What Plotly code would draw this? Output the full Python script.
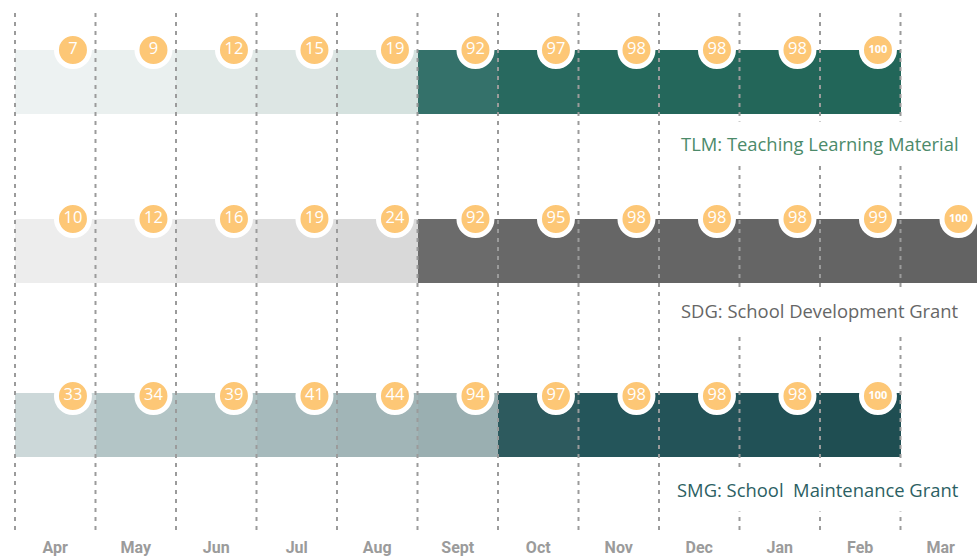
import plotly.graph_objects as go

# ---------------- data ----------------
months = ["Apr", "May", "Jun", "Jul", "Aug", "Sept", "Oct", "Nov", "Dec", "Jan", "Feb", "Mar"]
tlm_values = [7, 9, 12, 15, 19, 92, 97, 98, 98, 98, 100]
sdg_values = [10, 12, 16, 19, 24, 92, 95, 98, 98, 98, 99, 100]
smg_values = [33, 34, 39, 41, 44, 94, 97, 98, 98, 98, 100]
series_names = ["TLM: Teaching Learning Material",
                "SDG: School Development Grant",
                "SMG: School\u00a0 Maintenance Grant"]

# ---------------- styles ----------------
tlm_colors = ["#EDF2F2", "#EAF0EF", "#E2EAE8", "#DDE6E4", "#D5E2DF",
              "#34716A", "#28695F", "#25685C", "#24675B", "#236659", "#226659"]
sdg_colors = ["#EDEDED", "#EBEBEB", "#E4E4E4", "#DEDEDE", "#D9D9D9",
              "#6B6B6B", "#686868", "#666666", "#656565", "#656565", "#646464", "#636363"]
smg_colors = ["#CCD8D9", "#B3C5C6", "#B0C3C4", "#A6BABC", "#A1B5B7",
              "#9AAFB1", "#2D5A5E", "#24555A", "#235358", "#215156", "#1F4E52"]
label_colors = ["#4C8A6A", "#666666", "#2C5F63"]

row_tops = [50, 219, 393]          # layout: top edge of each band (y units = px)
bar_h = 63.5
label_y = [143, 310, 489]
circle_dy = [0, 0, 3]
circle_dx = 0.72                   # circle offset inside each month band
month_y = 549

rows = [(tlm_values, tlm_colors), (sdg_values, sdg_colors), (smg_values, smg_colors)]

fig = go.Figure()

# bars
for (vals, cols), top in zip(rows, row_tops):
    n = len(vals)
    fig.add_trace(go.Bar(
        orientation="h",
        y=[top + bar_h / 2] * n,
        x=[1] * n,
        base=list(range(n)),
        width=bar_h,
        marker=dict(color=cols, line=dict(width=0)),
        hoverinfo="skip", showlegend=False,
    ))

# dashed month dividers
lx, ly = [], []
for i in range(len(months)):
    lx += [i, i, None]
    ly += [13, 531, None]
fig.add_trace(go.Scatter(
    x=lx, y=ly, mode="lines",
    line=dict(color="#9B9B9B", width=2, dash="4px,5px"),
    hoverinfo="skip", showlegend=False,
))

# value circles
for (vals, _), top, dy in zip(rows, row_tops, circle_dy):
    n = len(vals)
    sizes = [11 if v >= 100 else 16.5 for v in vals]
    fig.add_trace(go.Scatter(
        x=[i + circle_dx for i in range(n)],
        y=[top + dy] * n,
        mode="markers+text",
        marker=dict(size=33, color="#FDC776", line=dict(color="white", width=5)),
        text=[f"<b>{v}</b>" if v >= 100 else str(v) for v in vals],
        textposition="middle center",
        textfont=dict(color="white", size=sizes, family="Open Sans"),
        hoverinfo="skip", showlegend=False, cliponaxis=False,
    ))

# month labels
fig.add_trace(go.Scatter(
    x=[i + 0.5 for i in range(len(months))],
    y=[month_y] * len(months),
    mode="text",
    text=[f"<b>{m}</b>" for m in months],
    textposition="middle center",
    textfont=dict(color="#9B9B9B", size=16, family="Roboto"),
    hoverinfo="skip", showlegend=False, cliponaxis=False,
))

px_per_month = 80.5
left_px = 15          # pixel x of first divider

# series labels with white boxes
label_right_x = (969 - left_px) / px_per_month
for name, ly_, col in zip(series_names, label_y, label_colors):
    fig.add_annotation(
        x=label_right_x, xref="x", xanchor="right",
        y=ly_, yref="y", yanchor="middle",
        text=name, showarrow=False,
        font=dict(color=col, size=18.4, family="Open Sans"),
        bgcolor="white", borderpad=9,
    )

fig.update_layout(
    width=977, height=557,
    margin=dict(l=0, r=0, t=0, b=0),
    paper_bgcolor="white", plot_bgcolor="white",
    barmode="overlay", bargap=0,
    xaxis=dict(range=[-left_px / px_per_month, (977 - left_px) / px_per_month],
               visible=False, fixedrange=True),
    yaxis=dict(range=[557, 0], visible=False, fixedrange=True),
    showlegend=False,
)

fig.write_html("out.html",
               config={"displayModeBar": False},
               post_script="document.body.style.margin='0px';document.body.style.overflow='hidden';")
